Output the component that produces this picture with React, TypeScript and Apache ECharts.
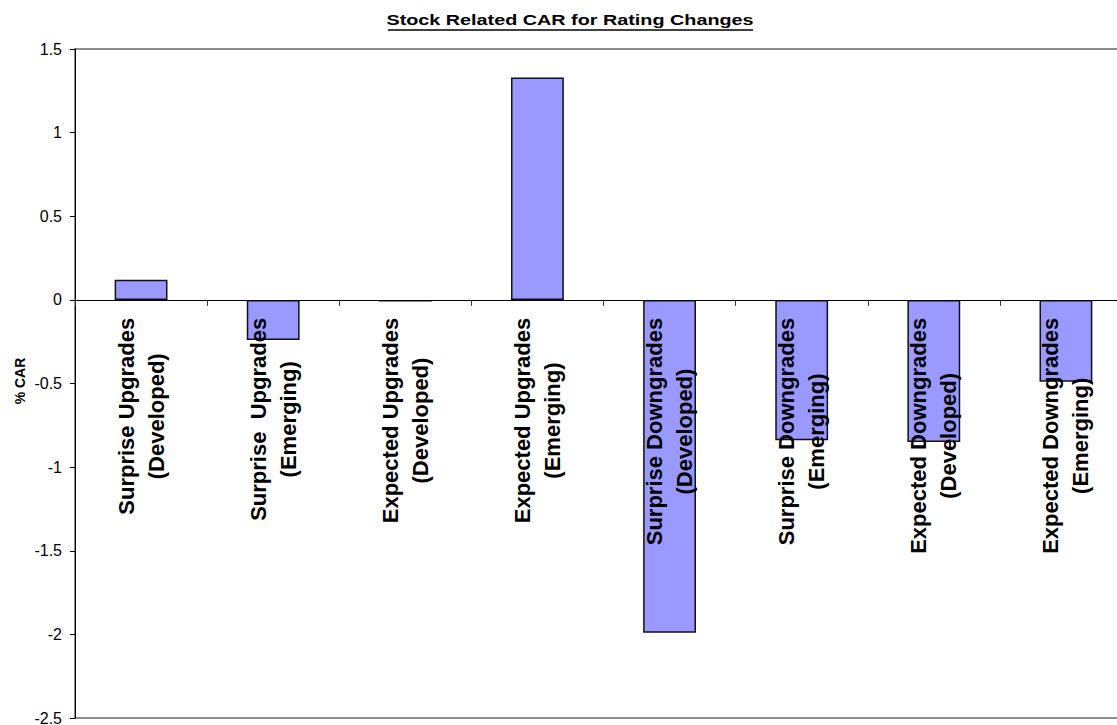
import React, { useEffect, useRef } from "react";
import * as echarts from "echarts";

const categories = [
  ["Surprise Upgrades", "(Developed)"],
  ["Surprise  Upgrades", "(Emerging)"],
  ["Expected Upgrades", "(Developed)"],
  ["Expected Upgrades", "(Emerging)"],
  ["Surprise Downgrades", "(Developed)"],
  ["Surprise Downgrades", "(Emerging)"],
  ["Expected Downgrades", "(Developed)"],
  ["Expected Downgrades", "(Emerging)"],
];
const carValues = [0.12, -0.24, -0.01, 1.33, -1.99, -0.84, -0.85, -0.49];
const yMin = -2.5;
const yMax = 1.5;
const yStep = 0.5;
const titleText = "Stock Related CAR for Rating Changes";
const yTitle = "% CAR";

const FONT = "'Liberation Sans', Arial, sans-serif";

const GRID_TOP = 49;
const GRID_BOTTOM = 7;
const CHART_H = 725;

export default function App() {
  const ref = useRef<HTMLDivElement>(null);
  useEffect(() => {
    if (!ref.current) return;
    const chart = echarts.init(ref.current, null, { renderer: "svg" });
    const gridH = CHART_H - GRID_TOP - GRID_BOTTOM;
    // shift the category axis from the grid bottom up to the value 0
    const zeroOffset = -(gridH * (0 - yMin)) / (yMax - yMin);
    chart.setOption({
      animation: false,
      backgroundColor: "#ffffff",
      grid: {
        left: 75,
        top: GRID_TOP,
        bottom: GRID_BOTTOM,
        right: -15,
        containLabel: false,
        outerBoundsMode: "none",
        show: true,
        borderColor: "#8c8c8c",
        borderWidth: 2,
        backgroundColor: "transparent",
      },
      xAxis: {
        type: "category",
        position: "bottom",
        offset: zeroOffset,
        data: categories.map((c) => c.join("\n")),
        z: 5,
        axisLine: { onZero: false, lineStyle: { color: "#000", width: 1 } },
        axisTick: { show: true, length: 6, lineStyle: { color: "#333", width: 1 } },
        axisLabel: {
          interval: 0,
          rotate: 90,
          margin: 18,
          hideOverlap: false,
          formatter: (v: string) =>
            v
              .split("\n")
              .map((s) => "{a|" + s + "}")
              .join("\n"),
          rich: {
            a: {
              fontFamily: FONT,
              fontSize: 22,
              fontWeight: "bold",
              color: "#000",
              lineHeight: 30,
              align: "center",
            },
          },
        },
      },
      yAxis: {
        type: "value",
        min: yMin,
        max: yMax,
        interval: yStep,
        splitLine: { show: false },
        axisLine: { show: true, lineStyle: { color: "#000", width: 1 } },
        axisTick: { show: true, length: 5, lineStyle: { color: "#000" } },
        axisLabel: {
          margin: 13,
          fontFamily: FONT,
          fontSize: 16,
          color: "#000",
        },
      },
      series: [
        {
          type: "bar",
          data: carValues,
          barCategoryGap: "60%",
          itemStyle: { color: "#9999FF", borderColor: "#111", borderWidth: 1.5 },
        },
      ],
      graphic: [
        {
          type: "text",
          x: 570,
          y: 20,
          scaleX: 1.32,
          style: {
            text: titleText,
            align: "center",
            verticalAlign: "middle",
            font: "bold 15px " + FONT,
            fill: "#000",
          },
        },
        {
          type: "line",
          shape: { x1: 388, y1: 30, x2: 753, y2: 30 },
          style: { stroke: "#000", lineWidth: 1.5 },
        },
        {
          type: "text",
          x: 20,
          y: 381,
          rotation: Math.PI / 2,
          style: {
            text: yTitle,
            align: "center",
            verticalAlign: "middle",
            font: "bold 14px " + FONT,
            fill: "#000",
          },
        },
      ],
    });
    return () => chart.dispose();
  }, []);
  return (
    <div
      ref={ref}
      style={{ position: "fixed", left: 0, top: 0, width: 1117, height: 725 }}
    />
  );
}
